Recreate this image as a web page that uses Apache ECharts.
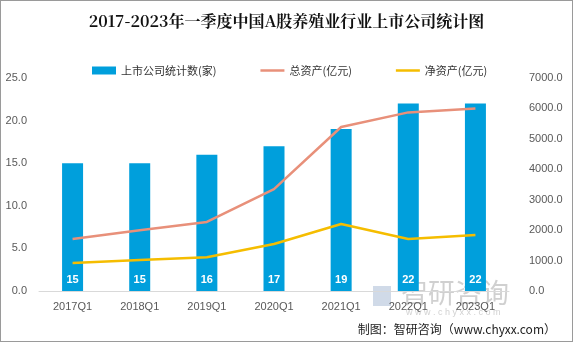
<!DOCTYPE html>
<html><head><meta charset="utf-8">
<script src="https://cdn.jsdelivr.net/npm/echarts@6/dist/echarts.min.js"></script>
<style>html,body{margin:0;padding:0;background:#fff}#c{width:571px;height:340px;border:1px solid #9a9a9a}</style>
</head><body><div id="c"></div>
<script>
const categories=['2017Q1','2018Q1','2019Q1','2020Q1','2021Q1','2022Q1','2023Q1'];
const companies=[15,15,16,17,19,22,22];
const totalAssets=[1710,2000,2270,3350,5390,5870,6000];
const netAssets=[920,1020,1110,1545,2200,1710,1840];
const chart=echarts.init(document.getElementById('c'));
const lineIcon='path://M0,0M0,2.75L24,2.75L24,5.25L0,5.25ZM24,8';
chart.setOption({
  animation:false,
  title:{text:'2017-2023年一季度中国A股养殖业行业上市公司统计图',left:'center',top:7,
    textStyle:{fontFamily:'"Noto Serif CJK SC","Noto Sans CJK SC",serif',fontSize:16,fontWeight:'bold',color:'#111'}},
  legend:{top:59,left:86,itemGap:44,symbolKeepAspect:false,textStyle:{fontSize:11,color:'#333',fontFamily:'"Noto Sans CJK SC"'},
    data:[{name:'上市公司统计数(家)',icon:'rect'},{name:'总资产(亿元)',icon:lineIcon},{name:'净资产(亿元)',icon:lineIcon}],
    itemWidth:24,itemHeight:8},
  graphic:[
    {type:'text',right:16,bottom:6,style:{text:'制图：智研咨询（www.chyxx.com）',fontSize:12,fill:'#222',fontFamily:'"Noto Sans CJK SC"'}},
    {type:'text',left:400,top:278,style:{text:'智研咨询',fontSize:27,fill:'rgba(150,150,150,0.45)',fontFamily:'"Noto Sans CJK SC"'}},
    {type:'text',left:405,top:307,style:{text:'w w w . c h y x x . c o m',fontSize:9,fill:'rgba(150,150,150,0.45)'}},
    {type:'rect',left:372,top:285,shape:{width:18,height:20},style:{fill:'rgba(120,150,190,0.35)'}}
  ],
  grid:{left:38,right:63,top:77,bottom:50},
  xAxis:{type:'category',data:categories,axisTick:{show:false},
    axisLine:{lineStyle:{color:'#d9d9d9'}},axisLabel:{color:'#595959',fontSize:11,margin:10}},
  yAxis:[
    {type:'value',min:0,max:25,interval:5,splitLine:{show:false},axisLine:{show:false},axisTick:{show:false},
      axisLabel:{color:'#595959',fontSize:11,formatter:v=>v.toFixed(1),margin:12}},
    {type:'value',min:0,max:7000,interval:1000,splitLine:{show:false},axisLine:{show:false},axisTick:{show:false},
      axisLabel:{color:'#595959',fontSize:11,formatter:v=>v.toFixed(1),margin:20}}
  ],
  series:[
    {name:'上市公司统计数(家)',type:'bar',data:companies,barWidth:21,itemStyle:{color:'#009fdc'},
      label:{show:true,position:'insideBottom',distance:6,color:'#fff',fontSize:11,fontWeight:'bold'}},
    {name:'总资产(亿元)',type:'line',yAxisIndex:1,data:totalAssets,symbol:'none',
      lineStyle:{color:'#e8907a',width:2.5},itemStyle:{color:'#e8907a'}},
    {name:'净资产(亿元)',type:'line',yAxisIndex:1,data:netAssets,symbol:'none',
      lineStyle:{color:'#f5bd00',width:2.5},itemStyle:{color:'#f5bd00'}}
  ]
});
</script></body></html>
